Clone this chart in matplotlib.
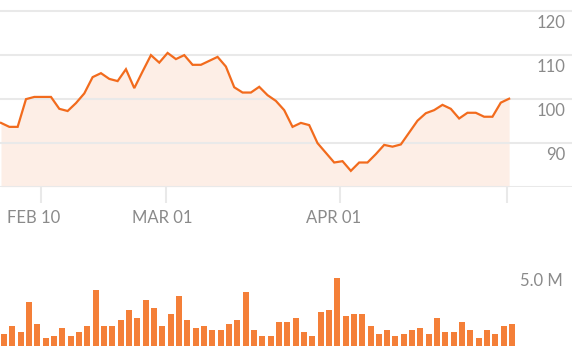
import matplotlib
matplotlib.use("Agg")
import matplotlib.pyplot as plt
import numpy as np

# ---- data ----
price = [94.5, 93.6, 93.6, 99.9, 100.4, 100.4, 100.4, 97.7, 97.2, 99.0,
         101.2, 104.9, 105.8, 104.5, 104.0, 106.7, 102.4, 106.2, 109.9, 108.2,
         110.4, 109.0, 109.9, 107.7, 107.7, 108.6, 109.5, 107.3, 102.6, 101.4,
         101.4, 102.7, 100.8, 99.5, 97.4, 93.6, 94.5, 94.0, 89.9, 87.7,
         85.5, 85.8, 83.6, 85.5, 85.5, 87.4, 89.5, 89.1, 89.6, 92.3,
         95.0, 96.7, 97.4, 98.6, 97.7, 95.5, 96.8, 96.8, 95.9, 95.9,
         99.1, 100.0]
volume_m = [0.77, 1.29, 0.90, 2.84, 1.42, 0.52, 0.65, 1.16, 0.65, 0.90,
            1.29, 3.61, 1.29, 1.29, 1.68, 2.32, 1.81, 2.97, 2.45, 1.29,
            2.06, 3.23, 1.68, 1.16, 1.29, 1.03, 1.03, 1.42, 1.68, 3.48,
            1.03, 0.65, 0.65, 1.55, 1.55, 1.81, 0.90, 0.65, 2.19, 2.32,
            4.39, 1.94, 2.06, 2.06, 1.29, 0.77, 1.03, 0.65, 0.77, 1.03,
            1.16, 0.77, 1.81, 0.90, 0.90, 1.55, 1.03, 0.52, 1.03, 0.77,
            1.29, 1.42]
tick_index = [5, 20, 41, 61]
tick_labels = ["FEB 10", "MAR 01", "APR 01", ""]
price_ticks = [90, 100, 110, 120]
price_grid = [80, 90, 100, 110, 120]
volume_tick = 5.0
volume_label = "5.0 M"

# ---- style ----
LINE = "#F26B1D"
BAR = "#F47F38"
FILL = "#FDEEE6"
GRID = "#E9E9E9"
TXT = "#8A8A8A"
FONT = "Lato"
WEIGHT = "normal"

W, H = 572, 356
fig = plt.figure(figsize=(W / 100, H / 100), dpi=100)

x = np.arange(len(price))
xl = (-0.12, 68.55)

# price axes: fig px y from 0 to 186.7
ax = fig.add_axes([0, 1 - 186.7 / H, 1, 186.7 / H])
ax.set_xlim(*xl)
ax.set_ylim(80, 122.43)
for g in price_grid:
    ax.axhline(g, color=GRID, lw=1.5, zorder=1)
ax.fill_between(x, price, 80, color=FILL, lw=0, zorder=0)
ax.plot(x, price, color=LINE, lw=1.6, zorder=3, solid_joinstyle="miter")
for s in ax.spines.values():
    s.set_visible(False)
ax.set_yticks([])
ax.set_xticks([t - 0.25 for t in tick_index])
ax.set_xticklabels([])
ax.tick_params(axis="x", length=11.5, width=1.5, color=GRID, direction="out")
for v in price_ticks:
    ax.text(0.989, v - 3.98, str(v), transform=ax.get_yaxis_transform(),
            ha="right", va="baseline", color=TXT, fontsize=12, family=FONT,
            fontweight=WEIGHT, zorder=4)
for t, lab in zip(tick_index, tick_labels):
    if lab:
        ax.annotate(lab, xy=(t - 0.25, 0), xycoords=("data", "axes fraction"),
                    xytext=(-34, -36.3), textcoords="offset pixels",
                    ha="left", va="baseline", color=TXT, fontsize=12,
                    family=FONT, fontweight=WEIGHT, annotation_clip=False)

# volume axes: fig px y from 240 to 346
vax = fig.add_axes([0, 10 / H, 1, 106 / H])
vax.set_xlim(*xl)
vax.set_ylim(0, 106 / 15.48)
vax.bar(x, volume_m, width=0.72, align="edge", color=BAR, lw=0)
for s in vax.spines.values():
    s.set_visible(False)
vax.set_xticks([])
vax.set_yticks([])
vax.text(0.984, volume_tick - 17.5 / 15.48, volume_label,
         transform=vax.get_yaxis_transform(), ha="right", va="baseline",
         color=TXT, fontsize=12, family=FONT, fontweight=WEIGHT)

fig.savefig("out.png", dpi=100)
